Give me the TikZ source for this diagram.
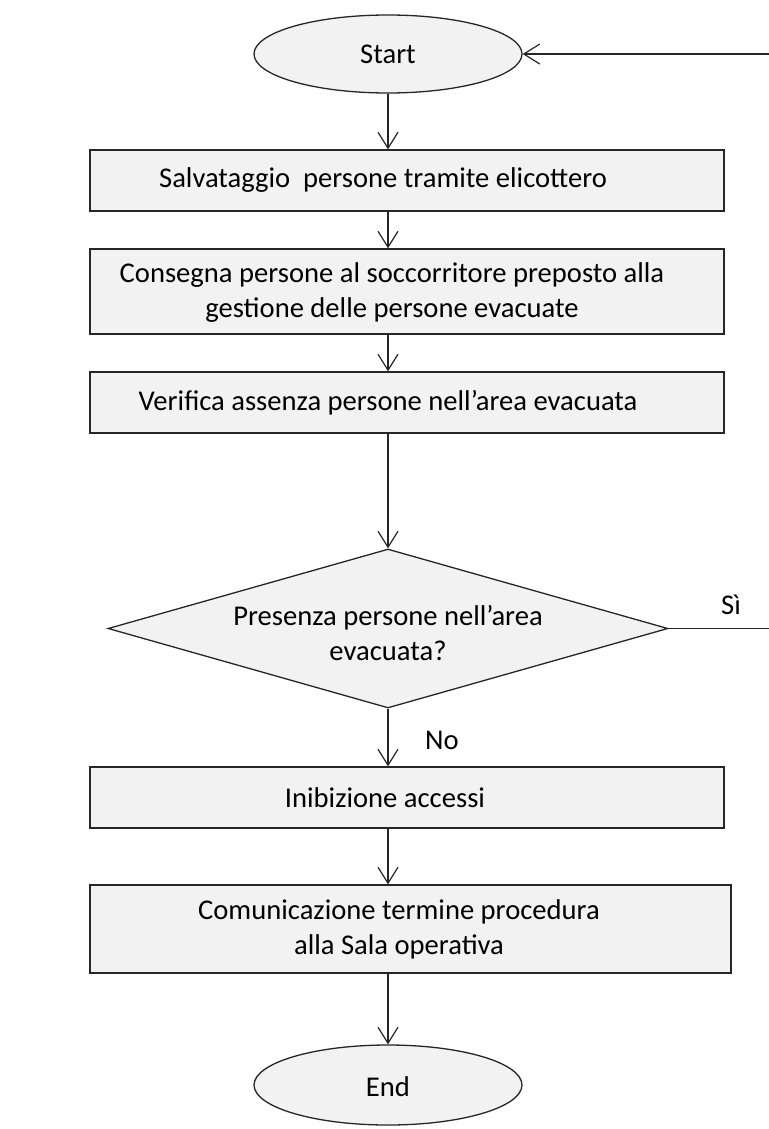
\documentclass[tikz,border=0pt]{standalone}
\usepackage{fontspec}
\setmainfont{Carlito}
\usetikzlibrary{arrows.meta,shapes.geometric}
\definecolor{boxfill}{HTML}{F2F2F2}
\definecolor{lineclr}{HTML}{262626}
\tikzset{
  shapebox/.style={draw=lineclr,line width=0.65pt,fill=boxfill,rectangle,inner sep=0pt},
  oval/.style={draw=lineclr,line width=0.65pt,fill=boxfill,ellipse,inner sep=0pt},
  decision/.style={draw=lineclr,line width=0.65pt,fill=boxfill,diamond,inner sep=0pt},
  txt/.style={inner sep=0pt,align=center,font=\fontsize{14.3}{17.5}\selectfont},
  flow/.style={draw=lineclr,line width=0.6pt,-{Straight Barb[length=8pt,width=10pt,line width=0.6pt]}},
  plain/.style={draw=lineclr,line width=0.6pt}
}
\begin{document}
\begin{tikzpicture}[x=0.5pt,y=-0.5pt]
\useasboundingbox[fill=white] (0,0) rectangle (769,1129);
% start
\node[oval,minimum width=134pt,minimum height=39pt] (s) at (388,54) {};
\node[txt] (st) at (388,54) {Start};
% boxes
\node[shapebox,minimum width=317pt,minimum height=30.5pt] (b1) at (407,180.5) {};
\node[txt] (t1) at (383,180.5) {Salvataggio\ \ persone tramite elicottero};
\node[shapebox,minimum width=317pt,minimum height=42.5pt] (b2) at (407,291.5) {};
\node[txt] (t2) at (392,293) {Consegna persone al soccorritore preposto alla\\gestione delle persone evacuate};
\node[shapebox,minimum width=317pt,minimum height=30.5pt] (b3) at (407,402.5) {};
\node[txt] (t3) at (388,402.5) {Verifica assenza persone nell’area evacuata};
% decision
\node[decision,minimum width=280pt,minimum height=79.5pt] (d) at (388,628.5) {};
\node[txt] (dt) at (388,633) {Presenza persone nell’area\\evacuata?};
\node[txt] (si) at (731,605) {Sì};
\node[txt] (no) at (442,740) {No};
% lower boxes
\node[shapebox,minimum width=317pt,minimum height=30.5pt] (b4) at (407,797.5) {};
\node[txt] (t4) at (385,797.5) {Inibizione accessi};
\node[shapebox,minimum width=320.5pt,minimum height=44pt] (b5) at (410.5,929) {};
\node[txt] (t5) at (399,929) {Comunicazione termine procedura\\alla Sala operativa};
% end
\node[oval,minimum width=134pt,minimum height=40pt] (e) at (388,1085) {};
\node[txt] (et) at (388,1087) {End};
% connectors
\draw[flow] (s.south) -- (s.south |- b1.north);
\draw[flow] (s.south |- b1.south) -- (s.south |- b2.north);
\draw[flow] (s.south |- b2.south) -- (s.south |- b3.north);
\draw[flow] (s.south |- b3.south) -- (d.north);
\draw[flow] (d.south) -- (d.south |- b4.north);
\draw[flow] (d.south |- b4.south) -- (d.south |- b5.north);
\draw[flow] (d.south |- b5.south) -- (e.north);
\coordinate (r1) at (769,628.5);
\coordinate (r2) at (769,54);
\draw[plain] (d.east) -- (r1);
\draw[flow] (r2) -- (s.east);
\end{tikzpicture}
\end{document}
